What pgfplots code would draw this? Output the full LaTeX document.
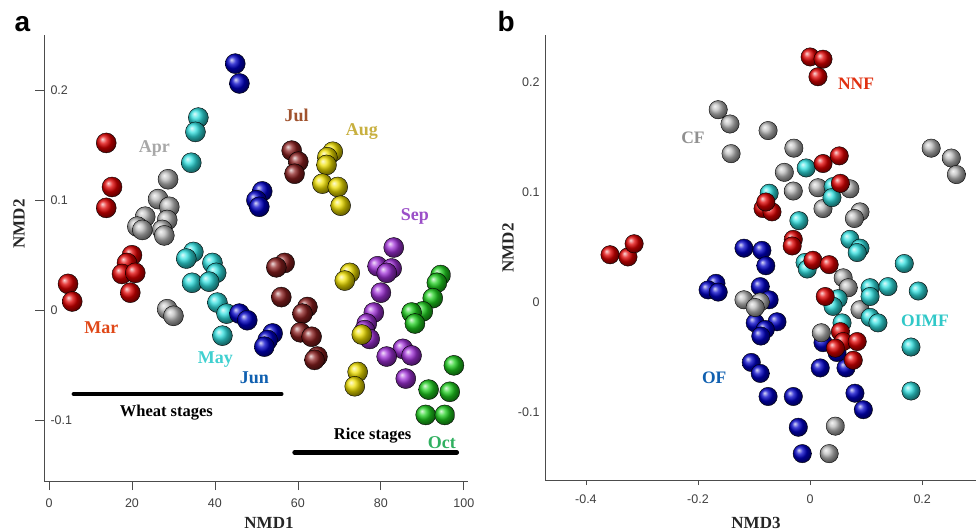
\documentclass[border=0pt]{standalone}
\usepackage{pgfplots}
\pgfplotsset{compat=1.18}
\usepackage{fontspec}
\setmainfont{Liberation Serif}
\newfontfamily\sansf{Liberation Sans}
\definecolor{bRed}{HTML}{E00000}
\definecolor{bGray}{HTML}{BABABA}
\definecolor{bCyan}{HTML}{30E0E0}
\definecolor{bBlue}{HTML}{0000C8}
\definecolor{bBrown}{HTML}{8C2020}
\definecolor{bYellow}{HTML}{F0E000}
\definecolor{bPurple}{HTML}{A030D8}
\definecolor{bGreen}{HTML}{20D020}
\definecolor{tMar}{HTML}{E04818}
\definecolor{tApr}{HTML}{A8A8A8}
\definecolor{tMay}{HTML}{40D0D0}
\definecolor{tJun}{HTML}{1060B0}
\definecolor{tJul}{HTML}{A0522D}
\definecolor{tAug}{HTML}{C8B040}
\definecolor{tSep}{HTML}{9B4FC8}
\definecolor{tOct}{HTML}{30B060}
\definecolor{tNNF}{HTML}{E03010}
\definecolor{tCF}{HTML}{909090}
\definecolor{tOIMF}{HTML}{30C8C8}
\definecolor{tOF}{HTML}{1060B0}
\pgfplotsset{
  ballplot/.style={only marks, mark=ball, mark options={ball color=#1}},
}
\tikzset{lab/.style={font=\bfseries\fontsize{18}{20}\selectfont},
         labs/.style={font=\bfseries\fontsize{16.5}{20}\selectfont},
         labb/.style={font=\bfseries\fontsize{17.5}{20}\selectfont}}
\begin{document}
\begin{tikzpicture}[x=1pt,y=1pt]
\useasboundingbox (0,0) rectangle (976,532);
% ---------------- panel a
\begin{axis}[at={(44pt,51pt)}, anchor=south west, scale only axis,
  width=424pt, height=446pt,
  xmin=-1.2, xmax=101, ymin=-0.155, ymax=0.25,
  axis lines*=left, axis line style={-, gray!60!black, line width=0.8pt},
  xtick={0,20,40,60,80,100}, xticklabels={0,20,40,60,80,100},
  ytick={-0.1,0,0.1,0.2}, yticklabels={-0.1,0,0.1,0.2},
  tick align=outside, major tick length=9pt,
  tick style={gray!60!black, line width=0.8pt},
  ticklabel style={font=\sansf\fontsize{12.5}{14}\selectfont, text=black!75},
  yticklabel style={anchor=west, xshift=12pt},
  xticklabel style={yshift=-5pt},
  clip=false, mark size=10pt,
]
\addplot[black, line width=4.5pt, line cap=round] coordinates {(6,-0.076) (56,-0.076)};
\addplot[black, line width=4.5pt, line cap=round] coordinates {(59.2,-0.129) (98.3,-0.129)};
% Mar
\addplot[ballplot=bRed] coordinates {(13.8,0.152) (15.2,0.112) (13.8,0.093) (20.0,0.050) (4.6,0.024) (5.6,0.008) (18.8,0.043) (17.6,0.033) (20.8,0.034) (19.6,0.016)};
% Apr
\addplot[ballplot=bGray] coordinates {(28.7,0.119) (26.3,0.101) (29.0,0.094) (23.2,0.085) (21.3,0.076) (28.5,0.082) (22.5,0.073) (27.3,0.073) (27.8,0.068) (28.5,0.001) (30.0,-0.005)};
% May
\addplot[ballplot=bCyan] coordinates {(36.0,0.175) (35.3,0.162) (34.3,0.134) (34.8,0.053) (33.1,0.047) (34.5,0.025) (39.4,0.043) (40.3,0.034) (38.6,0.026) (40.6,0.007) (42.8,-0.003) (41.8,-0.023)};
% Jun
\addplot[ballplot=bBlue] coordinates {(44.9,0.224) (45.9,0.206) (51.4,0.108) (50.0,0.100) (50.7,0.094) (45.9,-0.003) (47.8,-0.009) (53.9,-0.021) (52.7,-0.027) (51.9,-0.033)};
% Jul
\addplot[ballplot=bBrown] coordinates {(58.5,0.145) (60.1,0.135) (59.2,0.124) (56.8,0.043) (54.8,0.039) (56.0,0.012) (62.3,0.003) (61.1,-0.003) (60.6,-0.020) (63.3,-0.024) (64.7,-0.042) (64.0,-0.045)};
% Aug
\addplot[ballplot=bYellow] coordinates {(68.4,0.144) (67.1,0.139) (66.9,0.132) (65.9,0.115) (69.6,0.112) (70.3,0.095) (72.5,0.034) (71.3,0.027) (74.4,-0.056) (73.7,-0.069)};
% Sep
\addplot[ballplot=bPurple] coordinates {(83.1,0.057) (79.2,0.040) (82.6,0.038) (81.4,0.034) (80.0,0.016) (78.3,-0.002) (76.6,-0.012) (76.1,-0.018) (77.3,-0.026) (85.3,-0.035) (87.4,-0.041) (81.4,-0.042) (86.0,-0.062)};
\addplot[ballplot=bYellow] coordinates {(75.4,-0.022)};
% Oct
\addplot[ballplot=bGreen] coordinates {(94.4,0.032) (93.5,0.025) (92.5,0.011) (90.1,-0.001) (87.4,-0.002) (88.2,-0.012) (97.6,-0.050) (91.5,-0.072) (96.6,-0.074) (90.8,-0.095) (95.4,-0.095)};
\node[lab, text=tMar] at (axis cs:12.6,-0.016) {Mar};
\node[lab, text=tApr] at (axis cs:25.4,0.147) {Apr};
\node[lab, text=tMay] at (axis cs:40.1,-0.045) {May};
\node[lab, text=tJun] at (axis cs:49.5,-0.061) {Jun};
\node[lab, text=tJul] at (axis cs:59.7,0.177) {Jul};
\node[lab, text=tAug] at (axis cs:75.4,0.162) {Aug};
\node[lab, text=tSep] at (axis cs:88.2,0.085) {Sep};
\node[lab, text=tOct] at (axis cs:94.7,-0.120) {Oct};
\node[labs, text=black] at (axis cs:28.3,-0.093) {Wheat stages};
\node[labs, text=black] at (axis cs:78.0,-0.114) {Rice stages};
\end{axis}
% ---------------- panel b
\begin{axis}[at={(545pt,52pt)}, anchor=south west, scale only axis,
  width=431pt, height=445pt,
  xmin=-0.473, xmax=0.296, ymin=-0.162, ymax=0.243,
  axis lines*=left, axis line style={-, gray!60!black, line width=0.8pt},
  xtick={-0.4,-0.2,0,0.2}, xticklabels={-0.4,-0.2,0,0.2},
  ytick={-0.1,0,0.1,0.2}, yticklabels={-0.1,0,0.1,0.2},
  tick align=outside, major tick length=5pt, ytick style={draw=none},
  xtick style={gray!60!black, line width=0.8pt},
  ticklabel style={font=\sansf\fontsize{12.5}{14}\selectfont, text=black!75},
  yticklabel style={xshift=3pt},
  xticklabel style={yshift=-6pt},
  clip=false, mark size=9.2pt,
]
% OF
\addplot[ballplot=bBlue] coordinates {(-0.118,0.049) (-0.086,0.047) (-0.079,0.033) (-0.168,0.017) (-0.182,0.011) (-0.164,0.009) (-0.089,0.014) (-0.073,0.002) (-0.098,-0.019) (-0.059,-0.018) (-0.080,-0.025) (-0.088,-0.031) (-0.105,-0.055) (-0.089,-0.065) (-0.075,-0.086) (-0.030,-0.086) (-0.021,-0.114) (-0.014,-0.138) (0.018,-0.060) (0.064,-0.060) (0.080,-0.083) (0.095,-0.098) (0.023,-0.037) (0.048,-0.046)};
% CF
\addplot[ballplot=bGray] coordinates {(-0.164,0.175) (-0.143,0.162) (-0.141,0.135) (-0.075,0.156) (-0.029,0.140) (-0.046,0.118) (-0.030,0.101) (0.014,0.104) (0.071,0.103) (0.023,0.085) (0.089,0.082) (0.079,0.076) (0.216,0.140) (0.252,0.131) (0.261,0.116) (0.059,0.022) (0.068,0.013) (-0.118,0.002) (-0.089,0.0) (-0.098,-0.005) (0.089,-0.007) (0.020,-0.028) (0.045,-0.113) (0.034,-0.138)};
% OIMF
\addplot[ballplot=bCyan] coordinates {(-0.007,0.122) (-0.073,0.099) (-0.020,0.074) (0.041,0.105) (0.039,0.095) (0.071,0.057) (0.089,0.049) (0.084,0.045) (0.168,0.035) (-0.009,0.036) (-0.005,0.030) (0.107,0.013) (0.139,0.014) (0.107,0.005) (0.193,0.010) (0.050,0.003) (0.041,-0.004) (0.107,-0.014) (0.121,-0.019) (0.057,-0.019) (0.180,-0.041) (0.180,-0.081)};
% NNF
\addplot[ballplot=bRed] coordinates {(0.0,0.223) (0.023,0.221) (0.014,0.205) (-0.357,0.043) (-0.325,0.041) (-0.314,0.053) (0.023,0.126) (0.052,0.133) (0.054,0.108) (-0.084,0.085) (-0.068,0.082) (-0.079,0.091) (-0.030,0.057) (-0.032,0.051) (0.005,0.038) (0.034,0.034) (0.027,0.005) (0.054,-0.027) (0.059,-0.036) (0.084,-0.036) (0.045,-0.042) (0.077,-0.053)};
\node[labb, text=tNNF] at (axis cs:0.082,0.199) {NNF};
\node[labb, text=tCF] at (axis cs:-0.209,0.149) {CF};
\node[labb, text=tOIMF] at (axis cs:0.205,-0.017) {OIMF};
\node[labb, text=tOF] at (axis cs:-0.171,-0.069) {OF};
\end{axis}
% ---------------- labels
\node[anchor=base west, font=\sansf\bfseries\fontsize{28}{30}\selectfont] at (11,500) {a};
\node[anchor=base west, font=\sansf\bfseries\fontsize{28}{30}\selectfont] at (494,500) {b};
\node[font=\bfseries\fontsize{17}{20}\selectfont, text=black!85] at (269,9) {NMD1};
\node[font=\bfseries\fontsize{17}{20}\selectfont, text=black!85] at (756,9) {NMD3};
\node[font=\bfseries\fontsize{17}{20}\selectfont, text=black!85, rotate=90] at (19,308) {NMD2};
\node[font=\bfseries\fontsize{17}{20}\selectfont, text=black!85, rotate=90] at (508,284) {NMD2};
\end{tikzpicture}
\end{document}
